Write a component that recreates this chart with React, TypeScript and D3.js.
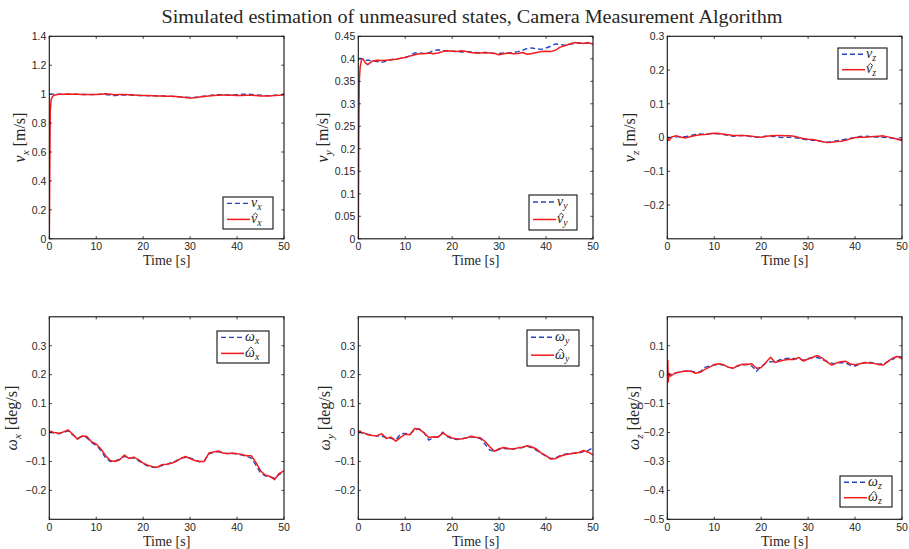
import React from "react";
import * as d3 from "d3";

const TITLE = "Simulated estimation of unmeasured states, Camera Measurement Algorithm";

const TIME = [0, 0.1, 0.2, 0.4, 0.7, 1, 1.5,
  2, 3, 4, 5, 6, 7, 8, 9, 10, 11,
  12, 13, 14, 15, 16, 17, 18, 19, 20, 21,
  22, 23, 24, 25, 26, 27, 28, 29, 30, 31,
  32, 33, 34, 35, 36, 37, 38, 39, 40, 41,
  42, 43, 44, 45, 46, 47, 48, 49, 50];

const VX_TRUE = [1.000, 1.000, 1.000, 1.000, 1.000, 1.000, 1.000,
  1.000, 0.999, 1.000, 1.000, 0.999, 0.998, 0.997, 0.997, 0.998, 0.999,
  0.998, 0.993, 0.990, 0.993, 0.995, 0.994, 0.992, 0.991, 0.990, 0.989,
  0.989, 0.988, 0.987, 0.986, 0.985, 0.983, 0.981, 0.979, 0.977, 0.978,
  0.982, 0.986, 0.990, 0.994, 0.997, 0.996, 0.994, 0.995, 0.997, 0.999,
  1.000, 0.998, 0.995, 0.993, 0.991, 0.990, 0.992, 0.993, 0.995];
const VX_EST = [0, 0.45, 0.88, 0.965, 0.985, 0.992, 0.996,
  0.999, 1.000, 1.001, 1.000, 0.999, 0.998, 0.997, 0.998, 0.998, 1.000,
  1.002, 0.999, 0.996, 0.997, 0.998, 0.996, 0.994, 0.992, 0.991, 0.990,
  0.989, 0.988, 0.987, 0.986, 0.985, 0.983, 0.980, 0.977, 0.974, 0.975,
  0.980, 0.984, 0.987, 0.990, 0.993, 0.995, 0.994, 0.992, 0.990, 0.991,
  0.992, 0.992, 0.990, 0.988, 0.987, 0.988, 0.990, 0.993, 0.997];

const VY_TRUE = [0.400, 0.400, 0.400, 0.401, 0.400, 0.399, 0.396,
  0.397, 0.396, 0.394, 0.392, 0.395, 0.398, 0.400, 0.401, 0.403, 0.407,
  0.413, 0.413, 0.412, 0.413, 0.418, 0.420, 0.418, 0.417, 0.417, 0.416,
  0.415, 0.416, 0.415, 0.414, 0.413, 0.414, 0.413, 0.412, 0.412, 0.413,
  0.413, 0.414, 0.416, 0.419, 0.423, 0.424, 0.422, 0.421, 0.424, 0.428,
  0.433, 0.432, 0.430, 0.432, 0.434, 0.435, 0.434, 0.435, 0.436];
const VY_EST = [0, 0.22, 0.35, 0.382, 0.398, 0.400, 0.391,
  0.387, 0.395, 0.397, 0.396, 0.397, 0.398, 0.399, 0.401, 0.403, 0.406,
  0.409, 0.411, 0.411, 0.413, 0.411, 0.413, 0.416, 0.418, 0.417, 0.416,
  0.418, 0.416, 0.414, 0.413, 0.413, 0.414, 0.413, 0.412, 0.409, 0.411,
  0.413, 0.411, 0.412, 0.414, 0.410, 0.412, 0.414, 0.416, 0.417, 0.416,
  0.419, 0.426, 0.429, 0.433, 0.436, 0.435, 0.434, 0.436, 0.432];

const VZ_TRUE = [0.000, 0.000, 0.000, 0.000, 0.000, 0.000, 0.001,
  0.002, 0.002, 0.003, 0.006, 0.009, 0.011, 0.010, 0.011, 0.012, 0.011,
  0.009, 0.006, 0.004, 0.005, 0.006, 0.005, 0.002, 0.001, 0.002, 0.004,
  0.004, 0.003, 0.001, 0.000, 0.001, 0.000, -0.002, -0.005, -0.007, -0.008,
  -0.010, -0.012, -0.014, -0.012, -0.010, -0.008, -0.005, -0.002, 0.000, 0.003,
  0.004, 0.003, 0.002, 0.001, 0.001, 0.000, -0.002, -0.004, -0.006];
const VZ_EST = [-0.007, -0.010, -0.004, -0.008, -0.002, 0.002, 0.004,
  0.005, 0.001, -0.001, 0.003, 0.006, 0.008, 0.009, 0.011, 0.013, 0.012,
  0.010, 0.008, 0.006, 0.006, 0.006, 0.005, 0.004, 0.002, 0.001, 0.003,
  0.005, 0.006, 0.006, 0.005, 0.005, 0.004, 0.000, -0.003, -0.005, -0.006,
  -0.009, -0.012, -0.015, -0.014, -0.012, -0.011, -0.008, -0.004, 0.000, 0.001,
  0.001, 0.002, 0.003, 0.004, 0.005, 0.002, -0.001, -0.005, -0.009];

const WX_TRUE = [0.000, 0.001, 0.000, 0.001, 0.000, -0.002, -0.002,
  -0.004, 0.000, 0.006, -0.008, -0.020, -0.014, -0.018, -0.034, -0.045, -0.062,
  -0.088, -0.100, -0.098, -0.092, -0.082, -0.088, -0.088, -0.097, -0.108, -0.116,
  -0.120, -0.122, -0.114, -0.111, -0.104, -0.098, -0.088, -0.086, -0.088, -0.095,
  -0.101, -0.098, -0.074, -0.069, -0.066, -0.072, -0.072, -0.073, -0.074, -0.078,
  -0.082, -0.088, -0.112, -0.140, -0.150, -0.153, -0.158, -0.145, -0.138];
const WX_EST = [0.003, 0.005, 0.002, 0.004, 0.001, 0.000, -0.001,
  -0.003, 0.002, 0.009, -0.006, -0.023, -0.012, -0.014, -0.032, -0.040, -0.057,
  -0.080, -0.097, -0.100, -0.094, -0.078, -0.090, -0.085, -0.094, -0.106, -0.113,
  -0.118, -0.120, -0.111, -0.110, -0.106, -0.100, -0.090, -0.083, -0.090, -0.097,
  -0.100, -0.100, -0.071, -0.067, -0.064, -0.071, -0.073, -0.071, -0.073, -0.076,
  -0.080, -0.080, -0.103, -0.132, -0.147, -0.152, -0.163, -0.141, -0.133];

const WY_TRUE = [0.000, 0.000, 0.001, 0.000, -0.001, -0.002, -0.004,
  -0.006, -0.009, -0.012, -0.012, -0.018, -0.020, -0.026, -0.005, -0.003, -0.006,
  0.010, 0.012, 0.000, -0.026, -0.018, -0.014, 0.001, -0.014, -0.022, -0.024,
  -0.022, -0.018, -0.015, -0.017, -0.021, -0.040, -0.060, -0.066, -0.058, -0.055,
  -0.057, -0.057, -0.054, -0.052, -0.048, -0.053, -0.062, -0.072, -0.082, -0.090,
  -0.088, -0.080, -0.075, -0.073, -0.072, -0.071, -0.066, -0.062, -0.052];
const WY_EST = [0.003, 0.006, 0.002, 0.005, 0.000, -0.001, -0.004,
  -0.008, -0.010, -0.011, -0.004, -0.021, -0.016, -0.030, -0.017, -0.006, -0.008,
  0.014, 0.011, -0.001, -0.017, -0.015, -0.016, -0.002, -0.012, -0.019, -0.022,
  -0.022, -0.019, -0.013, -0.016, -0.018, -0.031, -0.049, -0.065, -0.056, -0.052,
  -0.055, -0.058, -0.053, -0.051, -0.046, -0.050, -0.058, -0.071, -0.080, -0.092,
  -0.090, -0.082, -0.077, -0.074, -0.071, -0.069, -0.062, -0.068, -0.077];

const WZ_TRUE = [0.000, 0.000, -0.002, 0.000, 0.001, 0.002, 0.003,
  0.006, 0.011, 0.012, 0.013, 0.008, 0.010, 0.025, 0.030, 0.033, 0.036,
  0.033, 0.025, 0.024, 0.030, 0.034, 0.036, 0.030, 0.012, 0.028, 0.040,
  0.045, 0.044, 0.052, 0.055, 0.057, 0.056, 0.054, 0.050, 0.056, 0.058,
  0.060, 0.052, 0.046, 0.040, 0.038, 0.042, 0.040, 0.032, 0.030, 0.036,
  0.042, 0.043, 0.040, 0.036, 0.038, 0.045, 0.052, 0.065, 0.060];
const WZ_EST = [0.000, 0.050, -0.025, 0.005, -0.005, -0.002, 0.004,
  0.007, 0.010, 0.013, 0.012, 0.005, 0.008, 0.018, 0.026, 0.035, 0.038,
  0.034, 0.026, 0.022, 0.031, 0.036, 0.035, 0.038, 0.022, 0.025, 0.042,
  0.060, 0.042, 0.047, 0.051, 0.053, 0.052, 0.060, 0.047, 0.054, 0.060,
  0.066, 0.057, 0.044, 0.033, 0.040, 0.045, 0.046, 0.037, 0.034, 0.038,
  0.041, 0.040, 0.039, 0.035, 0.033, 0.046, 0.057, 0.063, 0.055];

const X_TICKS = [0, 10, 20, 30, 40, 50];
const VX_TICKS = [0, 0.2, 0.4, 0.6, 0.8, 1, 1.2, 1.4];
const VY_TICKS = [0, 0.05, 0.1, 0.15, 0.2, 0.25, 0.3, 0.35, 0.4, 0.45];
const VZ_TICKS = [-0.2, -0.1, 0, 0.1, 0.2, 0.3];
const WXY_TICKS = [-0.2, -0.1, 0, 0.1, 0.2, 0.3];
const WZ_TICKS = [-0.5, -0.4, -0.3, -0.2, -0.1, 0, 0.1];

const W = 909, H = 549;
const COL_X = [49.3, 358.3, 667.3];
const ROW_Y = [36.3, 316.8];
const AX_W = 234.7, AX_H = 202.5;

const RED = "#f21c1c";
const BLUE = "#2645c2";
const INK = "#262626";
const SERIF = "'Liberation Serif', 'Times New Roman', serif";
const SANS = "'Liberation Sans', Arial, Helvetica, sans-serif";

type Panel = {
  id: string; col: number; row: number; domain: [number, number]; ticks: number[];
  truth: number[]; est: number[]; sym: string; sub: string; unit: string;
  ylabX: number; leg: { x: number; y: number; w: number; h: number };
};

const PANELS: Panel[] = [
  { id: "vx", col: 0, row: 0, domain: [0, 1.4], ticks: VX_TICKS, truth: VX_TRUE, est: VX_EST, sym: "v", sub: "x", unit: "[m/s]", ylabX: 25, leg: { x: 223, y: 197, w: 50, h: 32 } },
  { id: "vy", col: 1, row: 0, domain: [0, 0.45], ticks: VY_TICKS, truth: VY_TRUE, est: VY_EST, sym: "v", sub: "y", unit: "[m/s]", ylabX: 328, leg: { x: 529, y: 195, w: 48, h: 35 } },
  { id: "vz", col: 2, row: 0, domain: [-0.3, 0.3], ticks: VZ_TICKS, truth: VZ_TRUE, est: VZ_EST, sym: "v", sub: "z", unit: "[m/s]", ylabX: 635, leg: { x: 838, y: 48, w: 49, h: 31 } },
  { id: "wx", col: 0, row: 1, domain: [-0.3, 0.4], ticks: WXY_TICKS, truth: WX_TRUE, est: WX_EST, sym: "\u03c9", sub: "x", unit: "[deg/s]", ylabX: 17, leg: { x: 217, y: 331, w: 52, h: 32 } },
  { id: "wy", col: 1, row: 1, domain: [-0.3, 0.4], ticks: WXY_TICKS, truth: WY_TRUE, est: WY_EST, sym: "\u03c9", sub: "y", unit: "[deg/s]", ylabX: 330, leg: { x: 527, y: 330, w: 52, h: 36 } },
  { id: "wz", col: 2, row: 1, domain: [-0.5, 0.2], ticks: WZ_TICKS, truth: WZ_TRUE, est: WZ_EST, sym: "\u03c9", sub: "z", unit: "[deg/s]", ylabX: 639, leg: { x: 840, y: 476, w: 52, h: 31 } },
];

function fmt(v: number): string {
  const s = String(Math.round(v * 1000) / 1000);
  return s.replace("-", "\u2212");
}

function LegendLabel({ x, y, sym, sub, hat }: { x: number; y: number; sym: string; sub: string; hat?: boolean }) {
  const size = 14;
  const symW = sym === "v" ? 6.3 : 9.4;
  const cx = x + symW / 2 + 1.2;
  const hy = y - 9.2;
  return (
    <g>
      <text x={x} y={y} fontFamily={SERIF} fontSize={size} fill={INK}>
        <tspan fontStyle="italic">{sym}</tspan>
        <tspan fontStyle="italic" fontSize={size * 0.7} dy={size * 0.22}>{sub}</tspan>
      </text>
      {hat && (
        <path d={`M${cx - 2.6},${hy + 1.8} L${cx},${hy - 0.6} L${cx + 2.6},${hy + 1.8}`} fill="none" stroke={INK} strokeWidth={0.9} />
      )}
    </g>
  );
}

function PanelView({ p }: { p: Panel }) {
  const x0 = COL_X[p.col], y0 = ROW_Y[p.row];
  const x = d3.scaleLinear().domain([0, 50]).range([x0, x0 + AX_W]);
  const y = d3.scaleLinear().domain(p.domain).range([y0 + AX_H, y0]);
  const line = d3.line<number>().x((_, i) => x(TIME[i])).y((d) => y(d));
  const tl = 2.6;
  const L = p.leg;
  const r1 = L.y + L.h * 0.2, r2 = L.y + L.h * 0.7;
  const fs = 16;
  return (
    <g>
      <defs>
        <clipPath id={"clip-" + p.id}>
          <rect x={x0} y={y0} width={AX_W} height={AX_H} />
        </clipPath>
      </defs>
      <rect x={x0} y={y0} width={AX_W} height={AX_H} fill="#fff" />
      <g clipPath={`url(#clip-${p.id})`}>
        <path d={line(p.truth) || ""} fill="none" stroke={BLUE} strokeWidth={1.4} strokeDasharray="5,3" />
        <path d={line(p.est) || ""} fill="none" stroke={RED} strokeWidth={1.5} strokeLinejoin="round" />
      </g>
      {X_TICKS.map((t) => (
        <g key={"xt" + t}>
          <line x1={x(t)} x2={x(t)} y1={y0 + AX_H} y2={y0 + AX_H - tl} stroke="#111" strokeWidth={0.8} />
          <line x1={x(t)} x2={x(t)} y1={y0} y2={y0 + tl} stroke="#111" strokeWidth={0.8} />
          <text x={x(t)} y={y0 + AX_H + 11.2} textAnchor="middle" fontFamily={SANS} fontSize={10.5} fill={INK}>{fmt(t)}</text>
        </g>
      ))}
      {p.ticks.map((t) => (
        <g key={"yt" + t}>
          <line x1={x0} x2={x0 + tl} y1={y(t)} y2={y(t)} stroke="#111" strokeWidth={0.8} />
          <line x1={x0 + AX_W} x2={x0 + AX_W - tl} y1={y(t)} y2={y(t)} stroke="#111" strokeWidth={0.8} />
          <text x={x0 - 3} y={y(t) + 3.8} textAnchor="end" fontFamily={SANS} fontSize={10.5} fill={INK}>{fmt(t)}</text>
        </g>
      ))}
      <rect x={x0} y={y0} width={AX_W} height={AX_H} fill="none" stroke="#111" strokeWidth={1.1} />
      <text x={x0 + AX_W / 2} y={y0 + AX_H + 26.5} textAnchor="middle" fontFamily={SERIF} fontSize={14} fill={INK}>Time [s]</text>
      <text transform={`translate(${p.ylabX},${y0 + AX_H / 2}) rotate(-90)`} textAnchor="middle" fontFamily={SERIF} fontSize={fs} fill={INK} style={{ whiteSpace: "pre" }}>
        <tspan fontStyle="italic">{p.sym}</tspan>
        <tspan fontStyle="italic" fontSize={fs * 0.7} dy={fs * 0.22}>{p.sub}</tspan>
        <tspan dy={-fs * 0.22}>{" " + p.unit}</tspan>
      </text>
      <rect x={L.x} y={L.y} width={L.w} height={L.h} fill="#fff" stroke="#111" strokeWidth={1.1} />
      <line x1={L.x + 4} x2={L.x + 27} y1={r1} y2={r1} stroke={BLUE} strokeWidth={1.4} strokeDasharray="5,3" />
      <line x1={L.x + 4} x2={L.x + 27} y1={r2} y2={r2} stroke={RED} strokeWidth={1.5} />
      <LegendLabel x={L.x + 28} y={r1 + 3.5} sym={p.sym} sub={p.sub} />
      <LegendLabel x={L.x + 28} y={r2 + 3.5} sym={p.sym} sub={p.sub} hat />
    </g>
  );
}

export default function App() {
  return (
    <svg width={W} height={H} viewBox={`0 0 ${W} ${H}`} style={{ position: "absolute", left: 0, top: 0, background: "#fff" }}>
      <rect x={0} y={0} width={W} height={H} fill="#fff" />
      <text x={472} y={23} textAnchor="middle" fontFamily={SERIF} fontSize={18.5} fill={INK} textLength={621} lengthAdjust="spacingAndGlyphs">{TITLE}</text>
      {PANELS.map((p) => <PanelView key={p.id} p={p} />)}
    </svg>
  );
}
